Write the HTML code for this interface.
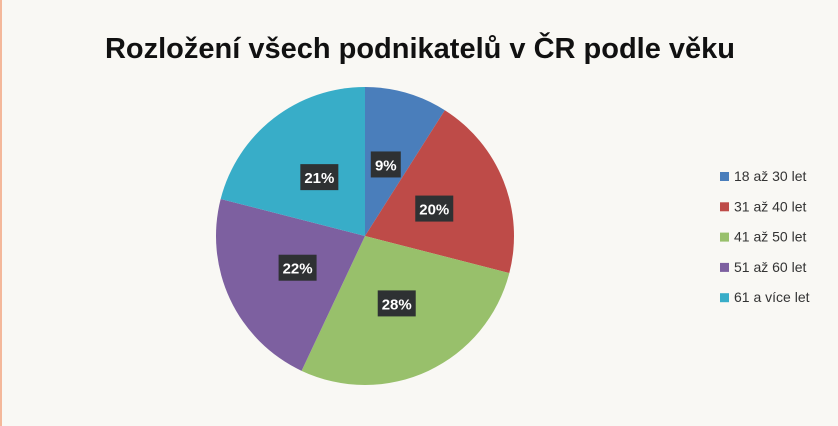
<!DOCTYPE html>
<html><head><meta charset="utf-8"><style>
body{margin:0;width:838px;height:426px;background:#f9f8f4;overflow:hidden;font-family:"Liberation Sans",sans-serif}
#frame{position:absolute;left:0;top:0;width:836px;height:426px;border-left:2px solid #f4b89a}
</style></head><body>
<div id="frame"></div>
<svg width="838" height="426" style="position:absolute;left:0;top:0" id="chart">
<text x="420" y="58" text-anchor="middle" font-size="29" font-weight="bold" fill="#111">Rozložení všech podnikatelů v ČR podle věku</text>
<g id="slices"></g><g id="labels"></g><g id="legend"></g>
</svg>
<script>
const categories=["18 až 30 let","31 až 40 let","41 až 50 let","51 až 60 let","61 a více let"];
const values=[9,20,28,22,21];
const colors=["#4a7ebb","#be4b48","#98c06b","#7d60a0","#38adc8"];
const cx=365,cy=236,r=149;
const ns="http://www.w3.org/2000/svg";
const total=values.reduce((a,b)=>a+b,0);
const S=document.getElementById('slices'),L=document.getElementById('labels'),G=document.getElementById('legend');
function pt(a,rr){return [cx+rr*Math.sin(a),cy-rr*Math.cos(a)];}
let acc=0;
values.forEach((v,i)=>{
  const a0=acc/total*2*Math.PI;acc+=v;const a1=acc/total*2*Math.PI;
  const p0=pt(a0,r),p1=pt(a1,r);
  const p=document.createElementNS(ns,'path');
  p.setAttribute('d',`M${cx},${cy}L${p0[0]},${p0[1]}A${r},${r} 0 ${a1-a0>Math.PI?1:0} 1 ${p1[0]},${p1[1]}Z`);
  p.setAttribute('fill',colors[i]);
  
  
  S.appendChild(p);
  const m=pt((a0+a1)/2,r*0.5);
  const txt=Math.round(v/total*100)+'%';
  const w=txt.length>2?38:30;
  const rect=document.createElementNS(ns,'rect');
  rect.setAttribute('x',m[0]-w/2);rect.setAttribute('y',m[1]-13);
  rect.setAttribute('width',w);rect.setAttribute('height',26);rect.setAttribute('fill','#2e3133');
  
  
  L.appendChild(rect);
  const t=document.createElementNS(ns,'text');
  t.setAttribute('x',m[0]);t.setAttribute('y',m[1]+6);t.setAttribute('text-anchor','middle');
  t.setAttribute('font-size','15');t.setAttribute('font-weight','bold');t.setAttribute('fill','#fff');
  t.textContent=txt;
  
  
  L.appendChild(t);
  const y=176+i*30.3;
  const sq=document.createElementNS(ns,'rect');
  sq.setAttribute('x',720);sq.setAttribute('y',y-4);sq.setAttribute('width',9);sq.setAttribute('height',9);sq.setAttribute('fill',colors[i]);
  
  
  G.appendChild(sq);
  const lt=document.createElementNS(ns,'text');
  lt.setAttribute('x',734);lt.setAttribute('y',y+5);lt.setAttribute('font-size','14');lt.setAttribute('fill','#333');
  lt.textContent=categories[i];
  
  
  G.appendChild(lt);
});
</script>
</body></html>
